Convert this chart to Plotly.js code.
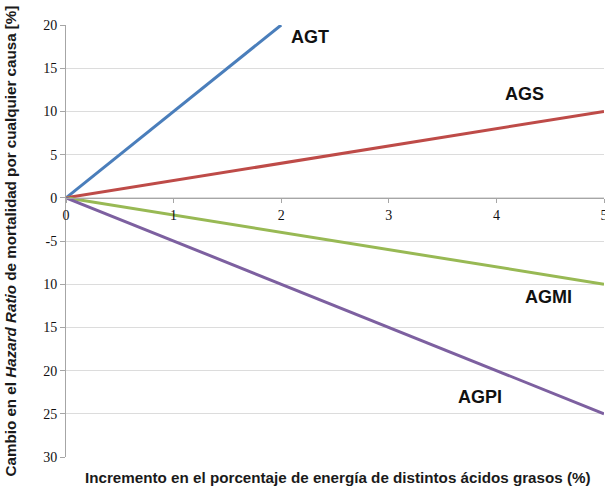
<!DOCTYPE html>
<html>
<head>
<meta charset="utf-8">
<script src="https://cdn.plot.ly/plotly-3.0.1.min.js"></script>
<style>html,body{margin:0;padding:0;background:#fff;}#chart{width:605px;height:486px;}</style>
</head>
<body>
<div id="chart"></div>
<script>
// Series data
const seriesNames = ["AGT", "AGS", "AGMI", "AGPI"];
const xAGT = [0, 2];
const yAGT = [0, 20];
const xAGS = [0, 5];
const yAGS = [0, 10];
const xAGMI = [0, 5];
const yAGMI = [0, -10];
const xAGPI = [0, 5];
const yAGPI = [0, -25];
const colors = ["#4a7ebb", "#be4b48", "#98b954", "#7d60a0"];

// Tick labels (as printed in the original)
const yTickVals = [20, 15, 10, 5, 0, -5, -10, -15, -20, -25, -30];
const yTickText = ["20", "15", "10", "5", "0", "-5", "10", "15", "20", "25", "30"];
const xTickVals = [0, 1, 2, 3, 4, 5];
const xTickText = ["0", "1", "2", "3", "4", "5"];

const xs = [xAGT, xAGS, xAGMI, xAGPI];
const ys = [yAGT, yAGS, yAGMI, yAGPI];
const traces = seriesNames.map((n, i) => ({
  type: "scatter", mode: "lines", name: n,
  x: xs[i], y: ys[i],
  line: {color: colors[i], width: 3},
  hoverinfo: "skip"
}));

const serif = "Liberation Serif, Times New Roman, DejaVu Serif, serif";
const sans = "Liberation Sans, Arial, sans-serif";
const labelFont = {family: sans, size: 18, color: "#111", weight: 700};
const titleFont = {family: sans, size: 15.2, color: "#1a1a1a", weight: 700};
const layout = {
  width: 605, height: 486,
  font: {family: serif, size: 14, color: "#222"},
  margin: {l: 66, r: 1, t: 25, b: 29},
  paper_bgcolor: "#fff", plot_bgcolor: "#fff",
  showlegend: false,
  xaxis: {
    range: [0, 5], anchor: "free", position: 0.6,
    tickvals: xTickVals, ticktext: xTickText,
    ticklabeloverflow: "allow",
    showgrid: false, zeroline: false,
    showline: true, linecolor: "#a6a6a6", linewidth: 1,
    ticks: "outside", ticklen: 4, tickcolor: "#a6a6a6",
    tickfont: {family: serif, size: 14, color: "#111"},
    fixedrange: true
  },
  yaxis: {
    range: [-30, 20],
    tickvals: yTickVals, ticktext: yTickText,
    showgrid: true, gridcolor: "#dcdcdc", gridwidth: 1,
    zeroline: false,
    showline: true, linecolor: "#a6a6a6", linewidth: 1,
    ticks: "outside", ticklen: 5, tickcolor: "#a6a6a6",
    tickfont: {family: serif, size: 14, color: "#111"},
    fixedrange: true
  },
  annotations: [
    {text: "AGT", x: 2.27, y: 18.6, xref: "x", yref: "y", showarrow: false, font: labelFont},
    {text: "AGS", x: 4.26, y: 12.0, xref: "x", yref: "y", showarrow: false, font: labelFont},
    {text: "AGMI", x: 4.48, y: -11.5, xref: "x", yref: "y", showarrow: false, font: labelFont},
    {text: "AGPI", x: 3.85, y: -23.0, xref: "x", yref: "y", showarrow: false, font: labelFont},
    {text: "Incremento en el porcentaje de energía de distintos ácidos grasos (%)",
     x: 0.505, y: -0.0486, xref: "paper", yref: "paper", xanchor: "center", yanchor: "middle",
     showarrow: false, font: titleFont},
    {text: "Cambio en el <i>Hazard Ratio</i> de mortalidad por cualquier causa [%]",
     x: -0.105, y: 0.5, xref: "paper", yref: "paper", xanchor: "center", yanchor: "middle",
     textangle: -90, showarrow: false, font: titleFont}
  ]
};
Plotly.newPlot("chart", traces, layout, {displayModeBar: false, staticPlot: true});
</script>
</body>
</html>
